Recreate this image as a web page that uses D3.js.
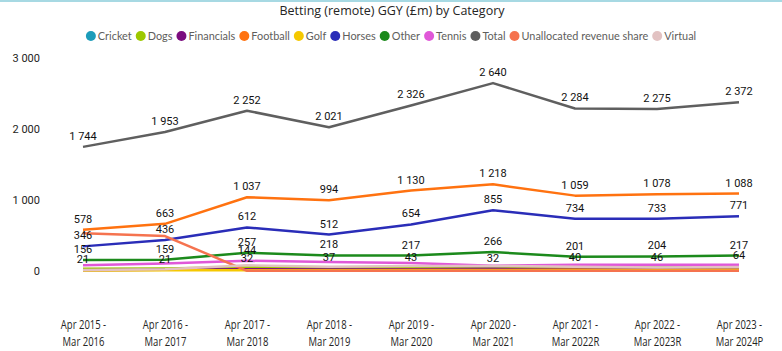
<!DOCTYPE html>
<html>
<head>
<meta charset="utf-8">
<script src="https://cdn.jsdelivr.net/npm/d3@7"></script>
<style>
  html, body { margin: 0; padding: 0; background: #fff; }
  svg { display: block; }
</style>
</head>
<body>
<svg id="chart" width="782" height="351"></svg>
<script>
// ---- data ----
const categories = [
  "Apr 2015 - Mar 2016", "Apr 2016 - Mar 2017", "Apr 2017 - Mar 2018",
  "Apr 2018 - Mar 2019", "Apr 2019 - Mar 2020", "Apr 2020 - Mar 2021",
  "Apr 2021 - Mar 2022R", "Apr 2022 - Mar 2023R", "Apr 2023 - Mar 2024P"
];
const seriesNames = ["Cricket", "Dogs", "Financials", "Football", "Golf", "Horses",
  "Other", "Tennis", "Total", "Unallocated revenue share", "Virtual"];
const cricket     = [21, 21, 32, 37, 43, 32, 40, 46, 64];
const dogs        = [30, 35, 55, 45, 55, 62, 55, 45, 50];
const financials  = [12, 18, 25, 20, 25, 30, 25, 20, 20];
const football    = [578, 663, 1037, 994, 1130, 1218, 1059, 1078, 1088];
const golf        = [6, 10, 12, 10, 14, 15, 16, 14, 16];
const horses      = [346, 436, 612, 512, 654, 855, 734, 733, 771];
const other       = [156, 159, 257, 218, 217, 266, 201, 204, 217];
const tennis      = [80, 105, 144, 128, 112, 75, 88, 88, 88];
const total       = [1744, 1953, 2252, 2021, 2326, 2640, 2284, 2275, 2372];
const unallocated = [529, 491, 3, 2, 2, 3, 3, 2, 3];
const virtual     = [15, 25, 80, 60, 70, 72, 60, 50, 55];
const yTicks = [0, 1000, 2000, 3000];
// which points carry a data label
const labelledSeries = ["Cricket", "Football", "Horses", "Other", "Total"];
const tennisLabelled = [2];

const colors = {
  "Cricket": "#1C9CBA", "Dogs": "#9CC800", "Financials": "#7B0C7F", "Football": "#FF7210",
  "Golf": "#F5C800", "Horses": "#2A2DB8", "Other": "#1C8A1C", "Tennis": "#E058D8",
  "Total": "#5F5F5F", "Unallocated revenue share": "#F5734F", "Virtual": "#E2C2C2"
};
const values = {
  "Cricket": cricket, "Dogs": dogs, "Financials": financials, "Football": football,
  "Golf": golf, "Horses": horses, "Other": other, "Tennis": tennis, "Total": total,
  "Unallocated revenue share": unallocated, "Virtual": virtual
};

// ---- chart ----
const svg = d3.select("#chart");
const W = 782, H = 351;
const locale = d3.formatLocale({decimal: ".", thousands: " ", grouping: [3], currency: ["", ""]});
const fmt = locale.format(",");
const uiFont = "'Open Sans', 'Noto Sans', sans-serif";

function condense(sel, k) {
  sel.each(function() {
    const w = this.getComputedTextLength();
    d3.select(this).attr("textLength", (w * k).toFixed(2)).attr("lengthAdjust", "spacingAndGlyphs");
  });
}

const x = d3.scalePoint().domain(categories).range([83, 739]);
const y = d3.scaleLinear().domain([0, 3000]).range([271, 57.5]);

// top border
svg.append("rect").attr("x", 0).attr("y", 0).attr("width", W).attr("height", 2).attr("fill", "#A7D9E3");

// title
svg.append("text").attr("x", 392).attr("y", 15).attr("text-anchor", "middle")
  .style("font-family", uiFont).style("font-size", "12.5px")
  .attr("fill", "#252423").text("Betting (remote) GGY (£m) by Category");

// legend: narrow natural font sized to the reference width
const legend = svg.append("g").attr("transform", "translate(0,36)");
const legFont = "Lato, 'Open Sans', sans-serif";
const dotW = 12, gap = 4, legendTarget = 611;
const items = [];
seriesNames.forEach(name => {
  const g = legend.append("g");
  g.append("circle").attr("cx", 5).attr("cy", 0).attr("r", 5).attr("fill", colors[name]);
  const t = g.append("text").attr("x", dotW).attr("y", 4.3)
    .style("font-family", legFont).style("font-size", "12px").attr("fill", "#605E5C").text(name);
  items.push({g, t});
});
let textSum = d3.sum(items, d => d.t.node().getComputedTextLength());
let fs = 12 * (legendTarget - items.length * dotW - gap * (items.length - 1)) / textSum;
fs = Math.min(fs, 13);
items.forEach(it => it.t.style("font-size", fs + "px"));
items.forEach(it => it.w = dotW + it.t.node().getComputedTextLength());
const totalW = d3.sum(items, d => d.w) + gap * (items.length - 1);
let lx = 391 - totalW / 2;
items.forEach(it => { it.g.attr("transform", `translate(${lx},0)`); lx += it.w + gap; });

// y axis
const yAxis = svg.append("g").attr("transform", "translate(44,0)")
  .call(d3.axisLeft(y).tickValues(yTicks).tickFormat(fmt).tickSize(0).tickPadding(4));
yAxis.select(".domain").remove();
yAxis.selectAll("text").style("font-family", "Roboto, sans-serif").style("font-size", "11px").attr("fill", "#252423");

// x axis (condensed two-line labels)
const xAxis = svg.append("g").attr("transform", "translate(0,313)")
  .call(d3.axisBottom(x).tickSize(0).tickFormat(""));
xAxis.select(".domain").remove();
xAxis.selectAll(".tick").each(function(d) {
  const parts = d.split(" - ");
  const g = d3.select(this);
  const t1 = g.append("text").attr("text-anchor", "middle").attr("x", 0).attr("y", 16)
    .style("font-family", uiFont).style("font-size", "12px").attr("fill", "#252423")
    .text(parts[0] + " -");
  const t2 = g.append("text").attr("text-anchor", "middle").attr("x", 0).attr("y", 32.5)
    .style("font-family", uiFont).style("font-size", "12px").attr("fill", "#252423")
    .text(parts[1]);
  condense(t1, 0.79);
  condense(t2, 0.79);
});

// lines
const line = d3.line().x((d, i) => x(categories[i])).y(d => y(d));
const linesG = svg.append("g");
seriesNames.forEach(name => {
  linesG.append("path").datum(values[name])
    .attr("fill", "none").attr("stroke", colors[name]).attr("stroke-width", 2.5)
    .attr("stroke-linejoin", "round").attr("d", line);
});

// data labels
const labG = svg.append("g")
  .style("font-family", "Roboto, sans-serif").style("font-size", "11px").attr("fill", "#111");
labelledSeries.forEach(name => {
  values[name].forEach((v, i) => {
    labG.append("text").attr("x", x(categories[i])).attr("y", y(v) - 7)
      .attr("text-anchor", "middle").text(fmt(v));
  });
});
tennisLabelled.forEach(i => {
  labG.append("text").attr("x", x(categories[i])).attr("y", y(tennis[i]) - 7)
    .attr("text-anchor", "middle").text(fmt(tennis[i]));
});
</script>
</body>
</html>
